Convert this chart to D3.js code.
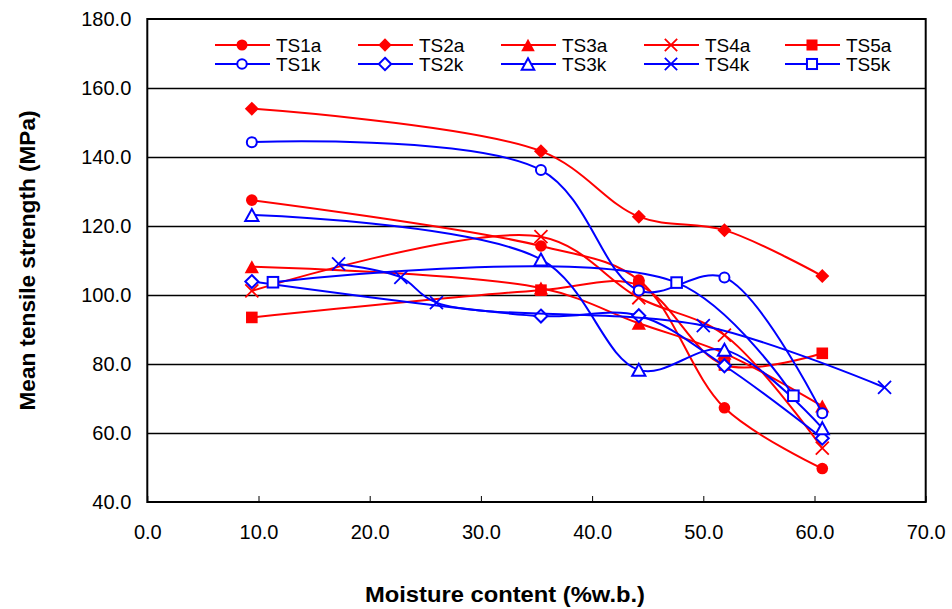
<!DOCTYPE html>
<html lang="en">
<head>
    <meta charset="UTF-8">
    <title>Mean tensile strength vs moisture content</title>
    <script src="https://cdnjs.cloudflare.com/ajax/libs/d3/7.8.5/d3.min.js"></script>
    <style>
        body {
            margin: 0;
            background: #fff;
            font-family: Arial, "Liberation Sans", sans-serif;
        }
        .tick text {
            font-family: Arial, "Liberation Sans", sans-serif;
            font-size: 20px;
            fill: #000;
        }
        .axis-title {
            font-family: Arial, "Liberation Sans", sans-serif;
            font-weight: bold;
            font-size: 22px;
        }
        .legend text {
            font-family: Arial, "Liberation Sans", sans-serif;
            font-size: 19px;
        }
    </style>
</head>
<body>
<svg id="chart" width="952" height="609"></svg>
<script>
    // moisture content (% w.b.) shared by most series
    const moisture = [9.4, 35.4, 44.2, 51.9, 60.7];
    // TS4k and TS5k were measured at other moisture levels
    const moistureTS4k = [17.2, 22.8, 26.0, 50.0, 66.3];
    const moistureTS5k = [11.3, 47.6, 58.1];

    // mean tensile strength (MPa)
    const ts1a = [127.5, 114.2, 104.3, 67.3, 49.7];
    const ts2a = [154.0, 141.7, 122.7, 118.8, 105.5];
    const ts3a = [108.2, 102.0, 91.8, 83.1, 67.8];
    const ts4a = [101.2, 116.9, 99.2, 88.4, 55.6];
    const ts5a = [93.5, 101.4, 102.8, 79.7, 83.1];
    const ts1k = [144.3, 136.2, 101.3, 105.1, 65.7];
    const ts2k = [103.9, 93.9, 94.0, 79.5, 58.5];
    const ts3k = [123.2, 110.3, 78.3, 84.1, 61.4];
    const ts4k = [109.0, 105.1, 97.8, 91.1, 73.2];
    const ts5k = [103.7, 103.6, 70.8];

    const xTicks = [0, 10, 20, 30, 40, 50, 60, 70];
    const yTicks = [40, 60, 80, 100, 120, 140, 160, 180];

    const RED = "#ff0000", BLUE = "#0000ff";

    // series in Excel order (a-series first, so the k-series sit on top)
    const series = [
        { name: "TS1a", xs: moisture, ys: ts1a, color: RED, shape: "circle", filled: true },
        { name: "TS2a", xs: moisture, ys: ts2a, color: RED, shape: "diamond", filled: true },
        { name: "TS3a", xs: moisture, ys: ts3a, color: RED, shape: "triangle", filled: true },
        { name: "TS4a", xs: moisture, ys: ts4a, color: RED, shape: "x", filled: true },
        { name: "TS5a", xs: moisture, ys: ts5a, color: RED, shape: "square", filled: true },
        { name: "TS1k", xs: moisture, ys: ts1k, color: BLUE, shape: "circle", filled: false },
        { name: "TS2k", xs: moisture, ys: ts2k, color: BLUE, shape: "diamond", filled: false },
        { name: "TS3k", xs: moisture, ys: ts3k, color: BLUE, shape: "triangle", filled: false },
        { name: "TS4k", xs: moistureTS4k, ys: ts4k, color: BLUE, shape: "x", filled: false },
        { name: "TS5k", xs: moistureTS5k, ys: ts5k, color: BLUE, shape: "square", filled: false }
    ];

    const plot = { left: 147.3, right: 925.7, top: 19, bottom: 502 };

    const svg = d3.select("#chart");

    const x = d3.scaleLinear().domain([0, 70]).range([plot.left, plot.right]);
    const y = d3.scaleLinear().domain([40, 180]).range([plot.bottom, plot.top]);

    // horizontal gridlines
    svg.append("g")
        .selectAll("line")
        .data(yTicks.slice(1, -1))
        .enter()
        .append("line")
        .attr("x1", plot.left)
        .attr("x2", plot.right)
        .attr("y1", d => y(d) + 0.5)
        .attr("y2", d => y(d) + 0.5)
        .attr("stroke", "#000")
        .attr("stroke-width", 1.3);

    // frame
    svg.append("rect")
        .attr("x", plot.left)
        .attr("y", plot.top)
        .attr("width", plot.right - plot.left)
        .attr("height", plot.bottom - plot.top)
        .attr("fill", "none")
        .attr("stroke", "#000")
        .attr("stroke-width", 2);

    // axes
    const xAxis = svg.append("g")
        .attr("transform", `translate(0,${plot.bottom})`)
        .call(d3.axisBottom(x).tickValues(xTicks).tickFormat(d3.format(".1f"))
            .tickSize(-6).tickSizeOuter(0).tickPadding(23));
    xAxis.select(".domain").remove();
    xAxis.selectAll(".tick line").attr("stroke", "#000").attr("stroke-width", 1);

    const yAxis = svg.append("g")
        .attr("transform", `translate(${plot.left},0)`)
        .call(d3.axisLeft(y).tickValues(yTicks).tickFormat(d3.format(".1f"))
            .tickSize(0).tickPadding(16));
    yAxis.select(".domain").remove();

    // axis titles
    svg.append("text")
        .attr("class", "axis-title")
        .attr("x", 505)
        .attr("y", 602)
        .attr("text-anchor", "middle")
        .attr("textLength", 280)
        .attr("lengthAdjust", "spacingAndGlyphs")
        .text("Moisture content (%w.b.)");

    svg.append("text")
        .attr("class", "axis-title")
        .attr("transform", `translate(35,${(plot.top + plot.bottom) / 2}) rotate(-90)`)
        .attr("text-anchor", "middle")
        .attr("textLength", 300)
        .attr("lengthAdjust", "spacingAndGlyphs")
        .text("Mean tensile strength (MPa)");

    // marker drawing
    function drawMarker(g, s, cx, cy, scale) {
        const k = scale || 1;
        const fill = s.filled ? s.color : "#fff";
        const sw = 2;
        if (s.shape === "circle") {
            g.append("circle").attr("cx", cx).attr("cy", cy).attr("r", (s.filled ? 5.8 : 5) * k)
                .attr("fill", fill).attr("stroke", s.color).attr("stroke-width", s.filled ? 0 : sw);
        } else if (s.shape === "diamond") {
            const h = (s.filled ? 7 : 6.5) * k;
            g.append("path")
                .attr("d", `M${cx},${cy - h}L${cx + h},${cy}L${cx},${cy + h}L${cx - h},${cy}Z`)
                .attr("fill", fill).attr("stroke", s.color).attr("stroke-width", s.filled ? 0 : sw);
        } else if (s.shape === "triangle") {
            const h = (s.filled ? 6.5 : 6) * k;
            g.append("path")
                .attr("d", `M${cx},${cy - h}L${cx + h * 1.1},${cy + h}L${cx - h * 1.1},${cy + h}Z`)
                .attr("fill", fill).attr("stroke", s.color).attr("stroke-width", s.filled ? 0 : sw);
        } else if (s.shape === "square") {
            const h = (s.filled ? 5.8 : 5.3) * k;
            g.append("rect").attr("x", cx - h).attr("y", cy - h).attr("width", 2 * h).attr("height", 2 * h)
                .attr("fill", fill).attr("stroke", s.color).attr("stroke-width", s.filled ? 0 : sw);
        } else if (s.shape === "x") {
            const h = 6.5 * k;
            g.append("path")
                .attr("d", `M${cx - h},${cy - h}L${cx + h},${cy + h}M${cx - h},${cy + h}L${cx + h},${cy - h}`)
                .attr("fill", "none").attr("stroke", s.color).attr("stroke-width", 1.8);
        }
    }

    // smoothed lines, like Excel's "smoothed line" option
    const line = d3.line()
        .x(d => x(d[0]))
        .y(d => y(d[1]))
        .curve(d3.curveCatmullRom.alpha(0.5));

    series.forEach(s => {
        const pts = s.xs.map((v, i) => [v, s.ys[i]]);
        const g = svg.append("g").attr("class", "series");
        g.append("path")
            .attr("d", line(pts))
            .attr("fill", "none")
            .attr("stroke", s.color)
            .attr("stroke-width", 2);
        pts.forEach(p => drawMarker(g, s, x(p[0]), y(p[1])));
    });

    // legend, 5 columns x 2 rows
    const legendTextX = [276, 419, 562, 705, 846];
    const legendRowY = [45, 64];
    const legend = svg.append("g").attr("class", "legend");
    series.forEach((s, i) => {
        const col = i % 5, row = Math.floor(i / 5);
        const tx = legendTextX[col], ty = legendRowY[row];
        legend.append("line")
            .attr("x1", tx - 61).attr("x2", tx - 6)
            .attr("y1", ty).attr("y2", ty)
            .attr("stroke", s.color).attr("stroke-width", 2);
        drawMarker(legend, s, tx - 34, ty, 0.95);
        legend.append("text")
            .attr("x", tx)
            .attr("y", ty)
            .attr("dy", "0.35em")
            .text(s.name);
    });
</script>
</body>
</html>
